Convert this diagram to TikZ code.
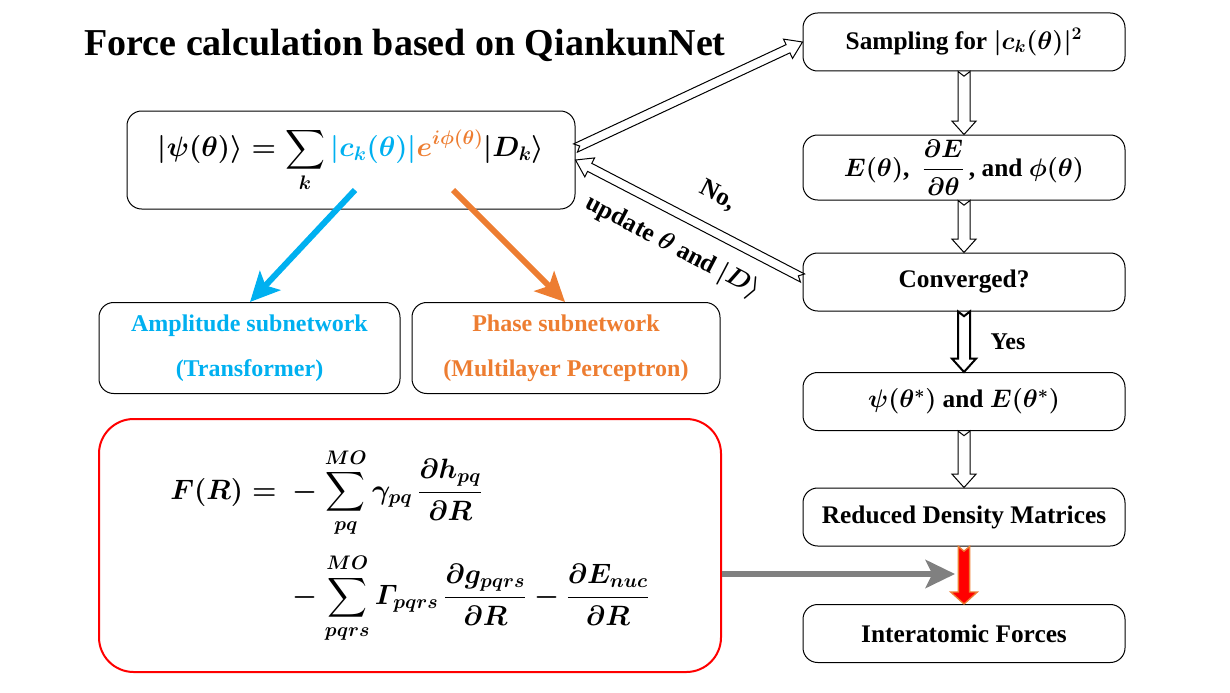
\RequirePackage{fix-cm}
\documentclass[tikz,border=0pt]{standalone}
\usepackage{amsmath}
\usepackage{fontspec}
\setmainfont{Liberation Serif}
\usetikzlibrary{calc,arrows.meta,positioning}
\definecolor{ampblue}{HTML}{00B0F0}
\definecolor{phaseorange}{HTML}{ED7D31}
\definecolor{arrowgray}{HTML}{808080}

% block arrow with notched tail: [style]{from}{to}{half shaft}{half head}{head length}
\newcommand{\fatarrow}[6][]{%
  \coordinate (headbase) at ($(#3)!#6!(#2)$);
  \draw[fill=white, line width=0.75pt, line join=miter, #1]
    ($(#2)!#4!90:(#3)$) -- ($(headbase)!#4!90:(#3)$) -- ($(headbase)!#5!90:(#3)$)
    -- (#3) -- ($(headbase)!#5!-90:(#3)$) -- ($(headbase)!#4!-90:(#3)$)
    -- ($(#2)!#4!-90:(#3)$) -- ($(#2)!3.5pt!(#3)$) -- cycle;}

\begin{document}
\begin{tikzpicture}[x=0.75pt,y=-0.75pt,
  box/.style={draw, rounded corners=11pt, line width=0.75pt, align=center, inner sep=0pt},
  rbox/.style={box, minimum width=241.5pt, minimum height=43.5pt, font=\fontsize{19}{23}\selectfont\bfseries\boldmath},
  lbl/.style={inner sep=0pt, font=\fontsize{19}{23}\selectfont\bfseries\boldmath},
  bigarrow/.style={line width=4.5pt, -{Stealth[length=22pt,width=21pt,inset=5pt]}}]
\useasboundingbox (0,0) rectangle (1230,692);

\node (title) at (405,45) {\fontsize{28.5}{32}\selectfont\bfseries Force calculation based on QiankunNet};

% wave function and its two subnetworks
\node[box, minimum width=336pt, minimum height=73.5pt, font=\fontsize{21}{25}\selectfont\boldmath] (psi) at (351,160)
  {$|\psi(\theta)\rangle = \displaystyle\sum_k {\color{ampblue}|c_k(\theta)|}{\color{phaseorange}e^{i\phi(\theta)}}|D_k\rangle$};
\node[box, minimum width=225.75pt, minimum height=68.25pt, text=ampblue, font=\fontsize{18}{34}\selectfont\bfseries] (amp) at (249.5,348)
  {Amplitude subnetwork\\(Transformer)};
\node[box, minimum width=231pt, minimum height=68.25pt, text=phaseorange, font=\fontsize{18}{34}\selectfont\bfseries] (phase) at (566,348)
  {Phase subnetwork\\(Multilayer Perceptron)};

% force expression
\node[box, draw=red, line width=1.5pt, rounded corners=26pt, minimum width=466.5pt, minimum height=189.75pt, font=\fontsize{21}{25}\selectfont\boldmath] (force) at (410,545.5)
  {$\begin{aligned}
     F(R) = {}& -\sum_{pq}^{MO}\gamma_{pq}\,\frac{\partial h_{pq}}{\partial R}\\[8pt]
              & -\sum_{pqrs}^{MO}\varGamma_{pqrs}\,\frac{\partial g_{pqrs}}{\partial R}-\frac{\partial E_{nuc}}{\partial R}
   \end{aligned}$};

% optimisation loop
\node[rbox] (samp) at (964,42) {Sampling for $|c_k(\theta)|^2$};
\node[rbox, minimum height=48.75pt] (ener) at (964,167.5) {$E(\theta)$,\enspace$\dfrac{\partial E}{\partial\theta}$\,, and $\phi(\theta)$};
\node[rbox] (conv) at (964,282) {Converged?};
\node[rbox] (opt) at (964,401.5) {$\psi(\theta^*)$ and $E(\theta^*)$};
\node[rbox] (rdm) at (964,517) {Reduced Density Matrices};
\node[rbox] (iaf) at (964,633.5) {Interatomic Forces};

\fatarrow{samp.south}{ener.north}{4.5pt}{9pt}{10pt}
\fatarrow{ener.south}{conv.north}{4.5pt}{9pt}{10pt}
\fatarrow[line width=1.5pt]{conv.south}{opt.north}{4.5pt}{9pt}{10pt}
\fatarrow{opt.south}{rdm.north}{4.5pt}{9pt}{10pt}
\fatarrow[fill=red, draw=phaseorange, line width=1pt]{rdm.south}{iaf.north}{4.2pt}{10pt}{9pt}
\node[lbl, font=\fontsize{18}{22}\selectfont\bfseries] (yes) at (1008,342) {Yes};

\coordinate (psiout) at ($(psi.east)+(0,-12)$);
\coordinate (convout) at ($(conv.west)+(0,-4)$);
\fatarrow{psiout}{samp.west}{3.4pt}{8pt}{12pt}
\fatarrow{convout}{psi.east}{3.4pt}{8pt}{12pt}
\node[lbl, rotate=-27.6] (no) at (718,196) {No,};
\node[lbl, rotate=-27.6] (upd) at (673,247) {update $\theta$ and $|D\rangle$};

% coloured arrows
\coordinate (ampfrom) at (355,190);
\coordinate (ampto) at (250,302);
\coordinate (phasefrom) at (453,190);
\coordinate (phaseto) at (565,302);
\coordinate (graytip) at (955,574);
\draw[bigarrow, ampblue] (ampfrom) -- (ampto);
\draw[bigarrow, phaseorange] (phasefrom) -- (phaseto);
\draw[bigarrow, arrowgray] (force.east |- graytip) -- (graytip);
\end{tikzpicture}
\end{document}
